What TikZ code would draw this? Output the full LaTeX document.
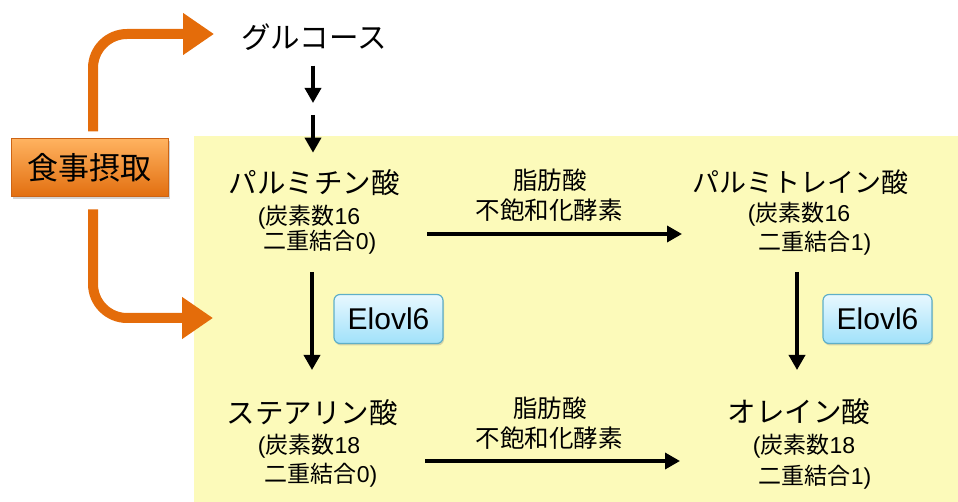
\documentclass[tikz,border=0pt]{standalone}
\usepackage{fontspec}
\setmainfont{Noto Sans CJK JP}
\newfontfamily\lat{Liberation Sans}
\usetikzlibrary{arrows.meta,shadows}
\definecolor{bgyellow}{RGB}{252,250,186}
\definecolor{orarrow}{RGB}{228,108,10}
\definecolor{ortop}{RGB}{255,178,95}
\definecolor{orbot}{RGB}{226,110,15}
\definecolor{ordraw}{RGB}{205,100,20}
\definecolor{enztop}{RGB}{232,248,255}
\definecolor{enzbot}{RGB}{160,225,250}
\definecolor{enzdraw}{RGB}{95,175,200}
\newcommand{\ltx}[1]{{\lat #1}}
\begin{document}
\begin{tikzpicture}[x=1pt,y=-1pt,
  big/.style={font=\fontsize{28.5}{30}\selectfont, inner sep=0pt, anchor=center},
  sub/.style={font=\fontsize{23}{26}\selectfont, inner sep=0pt, anchor=center},
  lbl/.style={font=\fontsize{24.5}{26}\selectfont, inner sep=0pt, anchor=center},
  flow/.style={line width=3.5pt, -{Triangle[length=15pt,width=16pt]}},
  feed/.style={orarrow, line width=10pt, rounded corners=34pt, -{Triangle[length=31pt,width=40pt]}},
  enz/.style={rounded corners=6pt, draw=enzdraw, line width=1.2pt, top color=enztop, bottom color=enzbot,
    minimum width=109pt, minimum height=49pt, inner sep=0pt, font=\lat\fontsize{30}{32}\selectfont,
    drop shadow={opacity=0.3, shadow xshift=1pt, shadow yshift=-2pt}},
  intakebox/.style={draw=ordraw, line width=1pt, top color=ortop, bottom color=orbot,
    minimum width=157pt, minimum height=58pt, inner sep=0pt, font=\fontsize{31}{33}\selectfont,
    drop shadow={opacity=0.35, shadow xshift=1.5pt, shadow yshift=-2.5pt}}
]
\useasboundingbox (0,0) rectangle (958,502);
\fill[bgyellow] (194,136) rectangle (958,502);

% intake
\node[intakebox] (intake) at (89.5,168) {食事摂取};
\coordinate (gtip) at (214,34);
\coordinate (ytip) at (213,318);
\draw[feed] ([xshift=3.5pt,yshift=7pt]intake.north) |- (gtip);
\draw[feed] ([xshift=3.5pt,yshift=-12pt]intake.south) |- (ytip);

% glucose
\node[big, font=\fontsize{29.5}{31}\selectfont] (glu) at (314,37) {グルコース};
\coordinate (gmidA) at (313,103);
\coordinate (gmidB) at (313,115);

% palmitic
\node[big] (pal) at (314,183) {パルミチン酸};
\node[sub] (pal1) at (309,217) {\ltx{(}炭素数\ltx{16}};
\node[sub] (pal2) at (320,242) {二重結合\ltx{0)}};

% palmitoleic
\node[big, font=\fontsize{27}{30}\selectfont] (pol) at (800,182) {パルミトレイン酸};
\node[sub] (pol1) at (799,214) {\ltx{(}炭素数\ltx{16}};
\node[sub] (pol2) at (815,243) {二重結合\ltx{1)}};

% stearic
\node[big] (ste) at (312,413) {ステアリン酸};
\node[sub] (ste1) at (309,446) {\ltx{(}炭素数\ltx{18}};
\node[sub] (ste2) at (321,475) {二重結合\ltx{0)}};

% oleic
\node[big] (ole) at (799,412) {オレイン酸};
\node[sub] (ole1) at (804,446) {\ltx{(}炭素数\ltx{18}};
\node[sub] (ole2) at (815,477) {二重結合\ltx{1)}};

% enzyme labels
\node[lbl] (d1a) at (550,180) {脂肪酸};
\node[lbl] (d1b) at (549,210) {不飽和化酵素};
\node[lbl] (d2a) at (550,408) {脂肪酸};
\node[lbl] (d2b) at (549,438) {不飽和化酵素};
\node[enz] (e1) at (388.5,319) {Elovl6};
\node[enz] (e2) at (877.5,319) {Elovl6};

% arrow anchor points
\coordinate (h1s) at (427,234);
\coordinate (h1e) at (682,234);
\coordinate (h2s) at (425,461);
\coordinate (h2e) at (680,461);
\coordinate (v1s) at (312,272);
\coordinate (v1e) at (312,370);
\coordinate (v2s) at (797,272);
\coordinate (v2e) at (797,370);

\draw[flow] ([yshift=-15pt]glu.south -| gmidA) -- (gmidA);
\draw[flow] (gmidB) -- ([yshift=17pt]pal.north -| gmidB);
\draw[flow] (h1s) -- (h1e);
\draw[flow] (h2s) -- (h2e);
\draw[flow] (v1s) -- (v1e);
\draw[flow] (v2s) -- (v2e);
\end{tikzpicture}
\end{document}
